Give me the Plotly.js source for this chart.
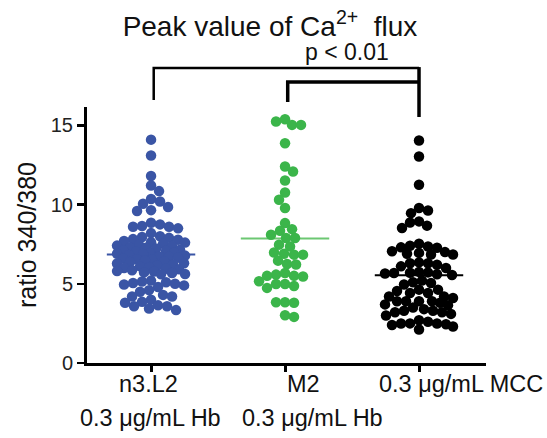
<!DOCTYPE html>
<html>
<head>
<meta charset="utf-8">
<script src="https://cdn.plot.ly/plotly-3.0.1.min.js"></script>
<style>html,body{margin:0;padding:0;background:#fff;}</style>
</head>
<body>
<div id="chart" style="width:547px;height:438px;"></div>
<script>
// ---- data ----
const categories = ['n3.L2', 'M2', 'MCC'];
const labelLine1 = ['n3.L2', 'M2', '0.3 μg/mL MCC'];
const labelLine2 = ['0.3 μg/mL Hb', '0.3 μg/mL Hb', ''];
const yTickVals = [0, 5, 10, 15];

const valuesN3L2 = [
  14.1, 13.1, 11.8, 11.2, 10.85, 10.35, 10.2, 10.05, 9.85, 9.65, 9.6,
  8.85, 8.75, 8.65, 8.6, 8.6, 8.5, 8.2, 8.0, 7.95,
  7.9, 7.82, 7.78, 7.7, 7.62, 7.6, 7.52, 7.45, 7.41, 7.38, 7.3, 7.28,
  7.22, 7.15, 7.12, 7.08, 7.02, 6.98, 6.95, 6.9, 6.88, 6.82, 6.78, 6.72,
  6.7, 6.65, 6.6, 6.55, 6.52, 6.48, 6.42, 6.38, 6.3, 6.28, 6.22, 6.15,
  6.1, 6.05, 6.0, 5.95, 5.92, 5.85, 5.8, 5.78, 5.72, 5.68, 5.62, 5.6,
  5.2, 5.15, 5.1, 5.05, 5.0, 4.95, 4.9, 4.8, 4.6, 4.5,
  4.3, 4.2, 4.2, 4.0,
  3.86, 3.8, 3.64, 3.58, 3.58, 3.44, 3.34
];
const valuesM2 = [
  15.39, 15.03, 15.03, 15.24, 13.87, 12.4, 12.09, 11.52, 10.76, 10.3,
  9.78, 8.83, 8.35, 8.45, 8.1, 7.89, 7.89, 7.47, 7.36, 6.9, 6.84, 6.84,
  6.98, 6.46, 6.25, 6.22, 5.58, 5.5, 5.68, 5.5, 5.46, 5.16, 4.99, 4.74,
  4.86, 4.99, 3.83, 3.8, 3.83, 2.91, 3.01
];
const valuesMCC = [
  14.04, 13.03, 11.25, 9.78, 9.63, 9.46, 8.94, 8.87, 8.67, 8.52,
  7.53, 7.4, 7.3, 7.27, 7.35,
  7.05, 7.0, 6.9, 6.85, 6.85, 6.95,
  6.35, 6.3, 6.3, 6.1, 6.0, 6.2,
  5.72, 5.65, 5.7, 5.75, 5.6, 5.55, 5.68,
  5.1, 5.05, 5.2, 4.95,
  4.63, 4.63, 4.42, 4.42, 4.55,
  4.2, 4.2, 4.1,
  3.9, 3.9, 3.9, 3.9, 3.7, 3.65, 3.8,
  3.2, 3.3, 3.0, 3.1, 3.3, 3.2, 3.4,
  2.49, 2.5, 2.6, 2.49, 2.4, 2.45, 2.7,
  2.11, 2.3, 3.5
];
const groupValues = [valuesN3L2, valuesM2, valuesMCC];
const pText = 'p &lt; 0.01';

// ---- styling / layout constants ----
const colors = ['#3a55a5', '#3bb54a', '#000000'];
const meanColors = ['#3a55a5', '#6cc772', '#000000'];
const W = 547, H = 438;
const M = {l: 87, r: 61, t: 107, b: 74.5};
const xRange = [-0.478, 2.5];
const yRange = [0, 16.16];
const plotW = W - M.l - M.r, plotH = H - M.t - M.b;
const pxPerX = plotW / (xRange[1] - xRange[0]);
const pxPerY = plotH / (yRange[1] - yRange[0]);
const FONT = 'Arial, "Liberation Sans", Helvetica, sans-serif';

// deterministic beeswarm: offsets in px so that dots do not overlap (much)
function swarm(vals, D, maxOff) {
  const pts = vals.map((v, i) => ({y: v * pxPerY, i})).sort((a, b) => b.y - a.y);
  const placed = [];
  const off = new Array(vals.length);
  let flip = 1;
  for (const p of pts) {
    let best = null, fallback = 0, bestScore = -1;
    for (let k = 0; k <= maxOff && best === null; k += 1) {
      const cands = k === 0 ? [0] : [flip * k, -flip * k];
      for (const s of cands) {
        let minD = Infinity;
        for (const q of placed) {
          const dy = q.y - p.y;
          if (Math.abs(dy) >= D) continue;
          const d = Math.hypot(s - q.x, dy);
          if (d < minD) minD = d;
        }
        if (minD >= D) { best = s; break; }
        if (minD > bestScore) { bestScore = minD; fallback = s; }
      }
    }
    const x = best !== null ? best : fallback;
    flip = -flip;
    placed.push({x, y: p.y});
    off[p.i] = x;
  }
  return off;
}

const mean = a => a.reduce((s, v) => s + v, 0) / a.length;

const traces = [];
// mean lines (below dots)
groupValues.forEach((vals, g) => {
  const m = mean(vals);
  traces.push({
    x: [g - 0.33, g + 0.33], y: [m, m], mode: 'lines', type: 'scatter',
    line: {color: meanColors[g], width: 2}, hoverinfo: 'skip', showlegend: false
  });
});
// dots
groupValues.forEach((vals, g) => {
  const off = swarm(vals, 9, 34);
  traces.push({
    x: vals.map((v, i) => g + off[i] / pxPerX), y: vals,
    mode: 'markers', type: 'scatter', name: categories[g],
    marker: {color: colors[g], size: 10.5, line: {width: 0}},
    showlegend: false, cliponaxis: false
  });
});

// category labels (two lines)
const annotations = [];
const l1Shift = [-3, 18, 42];
const l2Shift = [-1, 27, 0];
labelLine1.forEach((t, g) => {
  annotations.push({text: t, x: g, xref: 'x', xshift: l1Shift[g], y: (363.5 - 385) / plotH,
    yref: 'paper', yanchor: 'middle', xanchor: 'center', showarrow: false,
    font: {family: FONT, size: 23.5, color: '#111'}});
  if (labelLine2[g]) annotations.push({text: labelLine2[g], x: g, xref: 'x', xshift: l2Shift[g],
    y: (363.5 - 419) / plotH, yref: 'paper', yanchor: 'middle', xanchor: 'center', showarrow: false,
    font: {family: FONT, size: 23.5, color: '#111'}});
});
annotations.push({text: pText, x: 2, xref: 'x', xshift: -72, y: (363.5 - 52) / plotH, yref: 'paper',
  yanchor: 'middle', xanchor: 'center', showarrow: false, font: {family: FONT, size: 23, color: '#111'}});

const py = yPix => (363.5 - yPix) / plotH; // paper y from pixel row
const shapes = [
  {type: 'path', xref: 'x', yref: 'paper',
   path: `M 0.02,${py(100)} L 0.02,${py(68)} L 2,${py(68)}`,
   line: {color: '#000', width: 2.5}},
  {type: 'path', xref: 'x', yref: 'paper',
   path: `M 1.02,${py(102)} L 1.02,${py(82)} L 2,${py(82)}`,
   line: {color: '#000', width: 3.5}},
  {type: 'line', xref: 'x', yref: 'paper', x0: 2, x1: 2, y0: py(67), y1: py(117),
   line: {color: '#000', width: 3.5}}
];

const layout = {
  width: W, height: H, margin: M,
  paper_bgcolor: '#fff', plot_bgcolor: '#fff',
  title: {text: 'Peak value of Ca<sup>2+</sup>\u00a0 flux', x: 270 / W, xanchor: 'center',
    xref: 'container', yref: 'container', y: 1 - 26 / H, yanchor: 'middle',
    font: {family: FONT, size: 28, color: '#111'}},
  xaxis: {range: xRange, showgrid: false, zeroline: false, showline: true, linecolor: '#000',
    linewidth: 3, ticks: 'outside', ticklen: 6, tickwidth: 3, tickcolor: '#000',
    tickvals: [0, 1, 2], showticklabels: false, fixedrange: true},
  yaxis: {range: yRange, showgrid: false, zeroline: false, showline: true, linecolor: '#000',
    linewidth: 3, ticks: 'outside', ticklen: 7, tickwidth: 2.5, tickcolor: '#000',
    tickvals: yTickVals, ticktext: yTickVals.map(String),
    tickfont: {family: FONT, size: 20, color: '#222'},
    title: {text: 'ratio 340/380', font: {family: FONT, size: 25, color: '#111'}, standoff: 8},
    fixedrange: true},
  annotations, shapes, showlegend: false
};

Plotly.newPlot('chart', traces, layout, {displayModeBar: false, staticPlot: true});
</script>
</body>
</html>
